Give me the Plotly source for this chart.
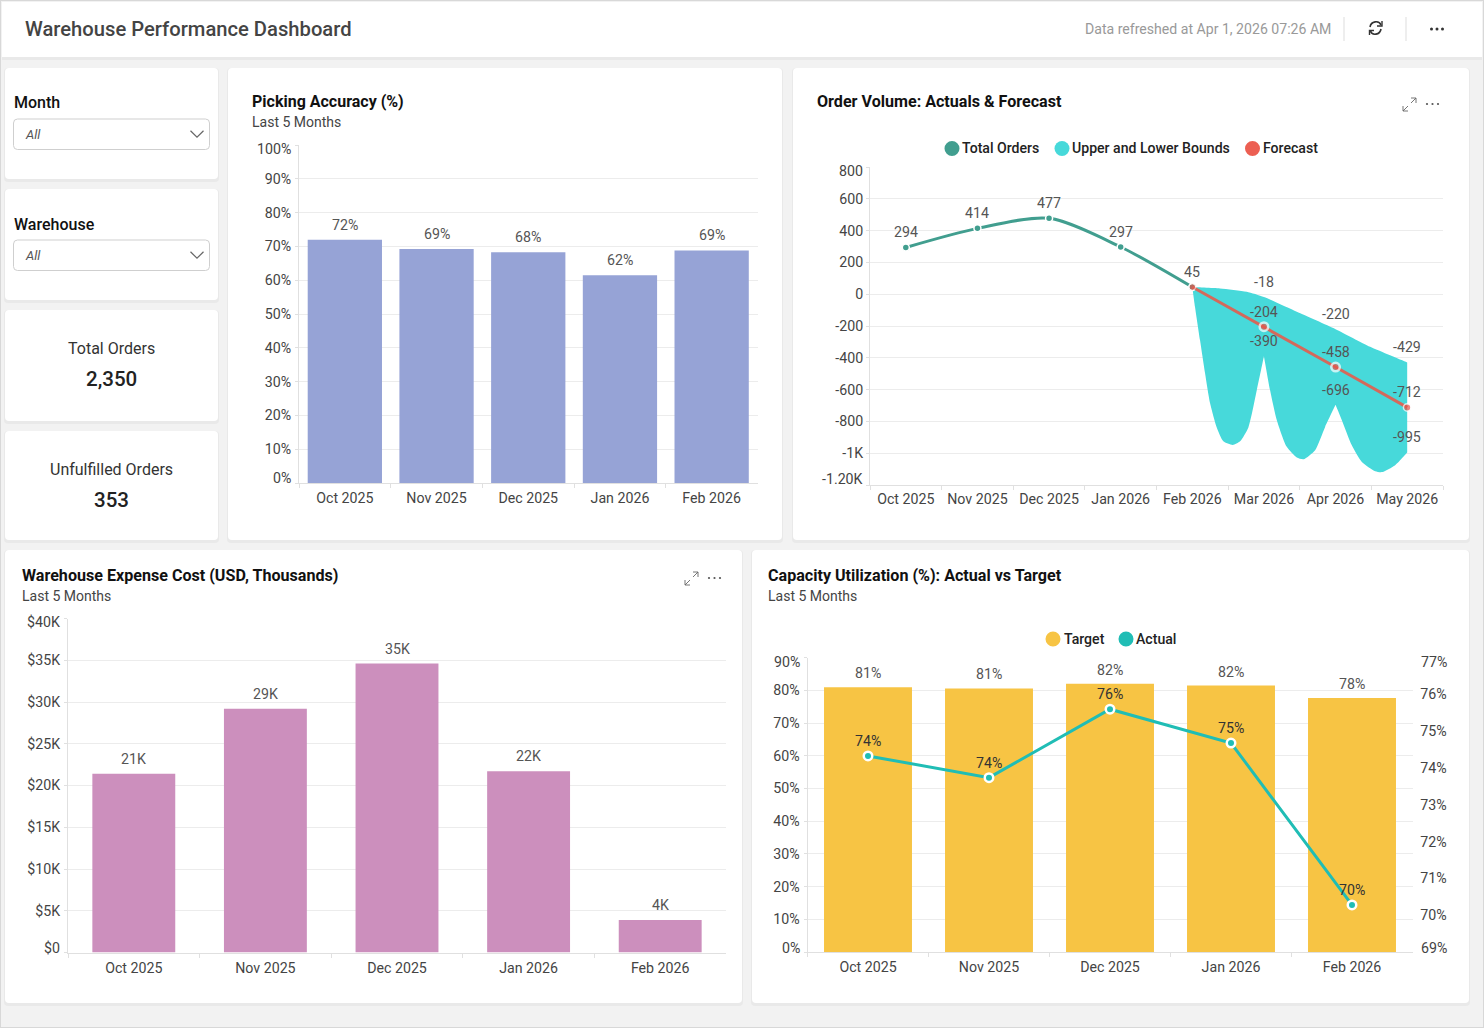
import re
import plotly.graph_objects as go

W, H = 1484, 1028
FONT = "Roboto"
TICK_SIZE = 14.2

# ---- data ----
months_5 = ["Oct 2025", "Nov 2025", "Dec 2025", "Jan 2026", "Feb 2026"]
months_8 = months_5 + ["Mar 2026", "Apr 2026", "May 2026"]

accuracy = [72.0, 69.2, 68.3, 61.5, 68.8]
accuracy_ticks = [0, 10, 20, 30, 40, 50, 60, 70, 80, 90, 100]

orders_idx = [0, 1, 2, 3, 4]
orders = [294, 414, 477, 297, 45]
forecast_idx = [4, 5, 6, 7]
forecast = [45, -204, -458, -712]
upper_idx = [5, 6, 7]
upper = [-18, -220, -429]
lower = [-390, -696, -995]
volume_ticks = [800, 600, 400, 200, 0, -200, -400, -600, -800, -1000, -1200]
volume_tick_text = ["800", "600", "400", "200", "0", "-200", "-400", "-600", "-800", "-1K", "-1.20K"]

# outline of the bounds band as it is drawn
# (corners are listed twice so the smoothing keeps them sharp)
band_x = [4, 4, 4.387, 4.76, 5, 5.459, 6, 6.483, 7, 7,
          7, 7, 6.832, 6.647, 6.553, 6.367, 6.227, 6.088, 6, 6,
          5.854, 5.715, 5.554, 5.459, 5.319, 5.18, 5.086, 5, 5,
          4.9, 4.783, 4.667, 4.565, 4.433, 4.341, 4.248, 4.178, 4.108, 4.038, 4]
band_y = [45, 45, 36, 15, -18, -111, -220, -331, -429, -429,
          -995, -995, -1075, -1119, -1113, -1055, -950, -792, -696, -696,
          -835, -981, -1038, -1027, -960, -792, -604, -390, -390,
          -604, -838, -925, -948, -925, -838, -686, -497, -289, -80, 45]

expense = [21.4, 29.2, 34.6, 21.7, 3.9]
expense_ticks = [0, 5, 10, 15, 20, 25, 30, 35, 40]

target = [81.0, 80.6, 82.0, 81.5, 77.7]
actual = [74.33, 73.74, 75.6, 74.68, 70.28]
target_ticks = [0, 10, 20, 30, 40, 50, 60, 70, 80, 90]
actual_ticks = [69, 70, 71, 72, 73, 74, 75, 76, 77]

# ---- colours ----
GRID = "#ECECEC"
AXIS = "#E0E0E0"
TEXT = "#444444"


def px(x):
    return x / W


def py(y):
    return 1 - y / H


def path(d):
    # pixel path -> paper path
    parts = re.findall(r"[A-Za-z]|-?\d+\.?\d*", d)
    out, i = [], 0
    for p in parts:
        if p.isalpha():
            out.append(p)
            i = 0
        else:
            out.append(str(px(float(p)) if i % 2 == 0 else py(float(p))))
            i += 1
    return " ".join(out)


def rounded(x0, y0, x1, y1, r=4):
    return (f"M {x0+r} {y0} L {x1-r} {y0} Q {x1} {y0} {x1} {y0+r} L {x1} {y1-r} Q {x1} {y1} {x1-r} {y1} "
            f"L {x0+r} {y1} Q {x0} {y1} {x0} {y1-r} L {x0} {y0+r} Q {x0} {y0} {x0+r} {y0} Z")


shapes = []
annots = []


def add_path(d, fill=None, line=None, width=1, layer="below"):
    s = dict(type="path", xref="paper", yref="paper", path=path(d), layer=layer, line=dict(width=0))
    if fill:
        s["fillcolor"] = fill
    if line:
        s["line"] = dict(color=line, width=width)
    shapes.append(s)


def card(x0, y0, x1, y1):
    add_path(rounded(x0 - 1, y0, x1 + 1, y1 + 3), fill="#E9E9E9")
    add_path(rounded(x0, y0, x1, y1), fill="white")


def label(x, y, text, size=14, color=TEXT, weight=400, anchor="left", style="normal"):
    annots.append(dict(xref="paper", yref="paper", x=px(x), y=py(y), text=text, showarrow=False,
                       xanchor=anchor, yanchor="middle", borderpad=0, borderwidth=0,
                       font=dict(family=FONT, size=size, color=color, weight=weight, style=style)))


def value_label(xref, yref, x, y, text, shift=15, color="#555555"):
    annots.append(dict(xref=xref, yref=yref, x=x, y=y, text=text, showarrow=False, yshift=shift,
                       xanchor="center", yanchor="middle",
                       font=dict(family=FONT, size=TICK_SIZE, color=color)))


def dot(x, y, color, r=7.5):
    shapes.append(dict(type="circle", xref="paper", yref="paper", x0=px(x - r), x1=px(x + r),
                       y0=py(y + r), y1=py(y - r), fillcolor=color, line=dict(width=0), layer="above"))


def dots(x, y, color, r=1.3):
    for dx in (-5.5, 0, 5.5):
        dot(x + dx, y, color, r)


def expand_icon(x, y):
    add_path(f"M {x} {y+8} L {x} {y+13} L {x+5} {y+13} M {x} {y+13} L {x+5} {y+8}", line="#666666", width=0.9)
    add_path(f"M {x+8} {y} L {x+13} {y} L {x+13} {y+5} M {x+13} {y} L {x+8} {y+5}", line="#666666", width=0.9)


def dropdown(y0, y1):
    add_path(rounded(13.5, y0, 209.5, y1), fill="white", line="#CFCFCF")
    m = (y0 + y1) / 2
    add_path(f"M 190.5 {m-3.5} L 197 {m+3} L 203.5 {m-3.5}", line="#666666", width=1.2)
    label(25, m, "All", size=13, color="#555555", style="italic")


# ---- page furniture ----
shapes.append(dict(type="rect", xref="paper", yref="paper", x0=0, x1=1, y0=0, y1=1,
                   fillcolor="#F2F2F2", line=dict(color="#D8D8D8", width=2), layer="below"))
add_path("M 2 2 L 1482 2 L 1482 60 L 2 60 Z", fill="#E9E9E9")
add_path("M 2 2 L 1482 2 L 1482 57 L 2 57 Z", fill="white")
add_path("M 1344 17 L 1344 41", line="#DDDDDD")
add_path("M 1406 17 L 1406 41", line="#DDDDDD")
add_path("M 1370 27 C 1371 21 1379 20 1381 25 M 1381 29 C 1380 35 1372 36 1370.5 31", line="#333333", width=1.6)
add_path("M 1382 21 L 1382 26 L 1377 26 M 1369.5 35 L 1369.5 30.5 L 1374 30.5", line="#333333", width=1.4)
dots(1437, 29, "#333333", 1.5)

label(25, 29, "Warehouse Performance Dashboard", size=20.2, color="#444444", weight=500)
label(1331, 29, "Data refreshed at Apr 1, 2026 07:26 AM", size=14.1, color="#999999", anchor="right")

card(5, 68, 218, 179)
card(5, 189, 218, 300)
card(5, 310, 218, 421)
card(5, 431, 218, 540)
card(228, 68, 782, 540)
card(793, 68, 1469, 540)
card(5, 550, 742, 1003)
card(752, 550, 1469, 1003)

label(14, 103, "Month", size=16, color="#111111", weight=500)
dropdown(119, 149.5)
label(14, 224, "Warehouse", size=16, color="#111111", weight=500)
dropdown(240, 270.5)

label(111.5, 348, "Total Orders", size=16, color="#333333", anchor="center")
label(111.5, 379, "2,350", size=20.5, color="#222222", weight=500, anchor="center")
label(111.5, 470, "Unfulfilled Orders", size=16, color="#333333", anchor="center")
label(111.5, 500, "353", size=20.5, color="#222222", weight=500, anchor="center")

label(252, 102, "Picking Accuracy (%)", size=16, color="#111111", weight=700)
label(252, 122, "Last 5 Months", size=14, color="#444444")
label(817, 102, "Order Volume: Actuals &amp; Forecast", size=16.1, color="#111111", weight=700)
expand_icon(1403, 98)
dots(1432.5, 104, "#555555", 1.1)
label(22, 575, "Warehouse Expense Cost (USD, Thousands)", size=16.1, color="#111111", weight=700)
label(22, 595.5, "Last 5 Months", size=14, color="#444444")
expand_icon(685, 572)
dots(714.5, 578, "#555555", 1.1)
label(768, 575, "Capacity Utilization (%): Actual vs Target", size=16.1, color="#111111", weight=700)
label(768, 595.5, "Last 5 Months", size=14, color="#444444")

# legends
for x, color, text, off in [(952, "#419E8F", "Total Orders", 10), (1062, "#47D9DA", "Upper and Lower Bounds", 10), (1252.5, "#EC5F52", "Forecast", 10.5)]:
    dot(x, 148.5, color)
    label(x + off, 148, text, size=14.1, color="#222222", weight=500)
for x, color, text, off in [(1053, "#F7C444", "Target", 10.5), (1126, "#20BDB5", "Actual", 10)]:
    dot(x, 639, color)
    label(x + off, 638.5, text, size=14.1, color="#222222", weight=500)

# ---- charts ----
fig = go.Figure()

# Picking accuracy
fig.add_trace(go.Bar(x=months_5, y=accuracy, width=0.81, marker=dict(color="#96A3D6", line=dict(width=0)),
                     xaxis="x", yaxis="y", hoverinfo="x+y"))
for m, v in zip(months_5, accuracy):
    value_label("x", "y", m, v, f"{v:.0f}%")

# Order volume
fig.add_trace(go.Scatter(x=band_x, y=band_y, mode="lines", fill="toself", fillcolor="#47D9DA",
                         line=dict(width=0, shape="spline", smoothing=0.6, simplify=False),
                         xaxis="x2", yaxis="y2", hoverinfo="skip"))
fig.add_trace(go.Scatter(x=orders_idx, y=orders, mode="lines+markers", line=dict(color="#419E8F", width=3, shape="spline", smoothing=0.8),
                         marker=dict(size=7, color="#419E8F", line=dict(color="white", width=1.5)), xaxis="x2", yaxis="y2"))
fig.add_trace(go.Scatter(x=forecast_idx, y=forecast, mode="lines+markers", line=dict(color="#D4695B", width=3),
                         marker=dict(size=[6.5, 8.5, 8.5, 7.5], color="#E5554A", line=dict(color="white", width=[1, 2.5, 2.5, 1.5])), xaxis="x2", yaxis="y2"))
for i, v in zip(orders_idx, orders):
    value_label("x2", "y2", i, v, str(v))
for series in (upper, forecast[1:], lower):
    for i, v in zip(upper_idx, series):
        value_label("x2", "y2", i, v, str(v))

# Expense
fig.add_trace(go.Bar(x=months_5, y=expense, width=0.63, marker=dict(color="#CC8FBD", line=dict(width=0)),
                     xaxis="x3", yaxis="y3", hoverinfo="x+y"))
for m, v in zip(months_5, expense):
    value_label("x3", "y3", m, v, f"{v:.0f}K")

# Capacity
fig.add_trace(go.Bar(x=months_5, y=target, width=0.727, marker=dict(color="#F7C444", line=dict(width=0)),
                     xaxis="x4", yaxis="y4", hoverinfo="x+y"))
fig.add_trace(go.Scatter(x=months_5, y=actual, mode="lines+markers", line=dict(color="#20BDB5", width=3),
                         marker=dict(size=8.5, color="#20BDB5", line=dict(color="white", width=2.5)), xaxis="x4", yaxis="y5"))
for m, v in zip(months_5, target):
    value_label("x4", "y4", m, v, f"{v:.0f}%", shift=14)
for m, v in zip(months_5, actual):
    value_label("x4", "y5", m, v, f"{v:.0f}%", color="#333333")


def x_axis(x0, x1, anchor, **kw):
    return dict(domain=[px(x0), px(x1)], anchor=anchor, showgrid=False, zeroline=False, showline=True, linecolor=AXIS,
                ticks="outside", ticklen=4, tickcolor=AXIS, ticklabelstandoff=2,
                tickfont=dict(family=FONT, size=TICK_SIZE, color=TEXT), fixedrange=True, **kw)


def y_axis(y_top, y_bottom, anchor, rng, vals, text, standoff=1):
    # the two end labels sit inside the plot height, so they are placed separately
    shown = ["" if i in (0, len(text) - 1) else t for i, t in enumerate(text)]
    return dict(domain=[py(y_bottom), py(y_top)], anchor=anchor, range=rng, tickmode="array", tickvals=vals, ticktext=shown,
                showgrid=True, gridcolor=GRID, gridwidth=1.2, zeroline=False, showline=True, linecolor=AXIS,
                ticks="outside", ticklen=3, tickcolor=AXIS, ticklabelstandoff=standoff,
                tickfont=dict(family=FONT, size=TICK_SIZE, color=TEXT), fixedrange=True)


accuracy_text = [f"{t}%" for t in accuracy_ticks]
expense_text = [f"${t}K" if t else "$0" for t in expense_ticks]
target_text = [f"{t}%" for t in target_ticks]
actual_text = [f"{t}%" for t in actual_ticks]

for x, y, t, a in [(291, 478, accuracy_text[0], "right"), (291, 149, accuracy_text[-1], "right"),
                   (863, 171, volume_tick_text[0], "right"), (863, 479, volume_tick_text[-1], "right"),
                   (60, 948, expense_text[0], "right"), (60, 622, expense_text[-1], "right"),
                   (800, 948, target_text[0], "right"), (800, 662, target_text[-1], "right"),
                   (1421, 948, actual_text[0], "left"), (1421, 662, actual_text[-1], "left")]:
    label(x, y, t, size=TICK_SIZE, color=TEXT, anchor=a)

fig.update_layout(
    width=W, height=H, autosize=False, showlegend=False,
    margin=dict(l=0, r=0, t=0, b=0, pad=0),
    paper_bgcolor="#F2F2F2", plot_bgcolor="rgba(0,0,0,0)",
    xaxis=x_axis(299, 757.5, "y", type="category", tickson="boundaries"),
    yaxis=y_axis(145, 483, "x", [0, 100], accuracy_ticks, accuracy_text),
    xaxis2=dict(domain=[px(870), px(1443)], anchor="y2", range=[-0.5, 7.5], tickmode="array", tickvals=list(range(8)), ticktext=months_8,
                showgrid=False, zeroline=False, showline=True, linecolor=AXIS, ticks="", ticklabelstandoff=1,
                minor=dict(tickmode="array", tickvals=[i - 0.5 for i in range(9)], ticks="outside", ticklen=4, tickcolor=AXIS, showgrid=False),
                tickfont=dict(family=FONT, size=TICK_SIZE, color=TEXT), fixedrange=True),
    yaxis2=y_axis(167, 485, "x2", [-1200, 800], volume_ticks, volume_tick_text, standoff=0),
    xaxis3=x_axis(68, 726, "y3", type="category", tickson="boundaries"),
    yaxis3=y_axis(618.5, 952.5, "x3", [0, 40], expense_ticks, expense_text),
    xaxis4=x_axis(807.5, 1412.5, "y4", type="category", tickson="boundaries"),
    yaxis4=y_axis(657.7, 952, "x4", [0, 90], target_ticks, target_text),
    yaxis5=dict(domain=[py(952), py(657.7)], anchor="x4", overlaying="y4", side="right", range=[69, 77], tickmode="array",
                tickvals=actual_ticks, ticktext=["" if i in (0, len(actual_text) - 1) else t for i, t in enumerate(actual_text)],
                showgrid=False, zeroline=False, showline=False, ticks="outside", ticklen=4, tickcolor="rgba(0,0,0,0)",
                tickfont=dict(family=FONT, size=TICK_SIZE, color=TEXT), fixedrange=True),
    shapes=shapes,
    annotations=annots,
)

fig.write_html("out.html", config=dict(displayModeBar=False),
               post_script="document.body.style.margin='0';document.body.style.overflow='hidden';")
